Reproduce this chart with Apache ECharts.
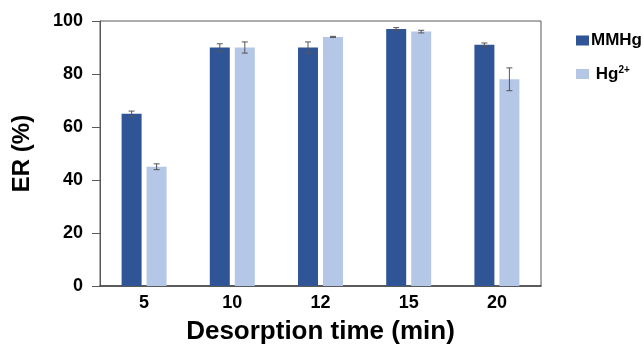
<!DOCTYPE html>
<html>
<head>
<meta charset="utf-8">
<script src="https://cdn.jsdelivr.net/npm/echarts@6/dist/echarts.min.js"></script>
<style>
html, body { margin: 0; padding: 0; background: #fff; }
#chart { width: 644px; height: 345px; }
</style>
</head>
<body>
<div id="chart"></div>
<script>
var times = ['5', '10', '12', '15', '20'];
var mmhg = [65, 90, 90, 97, 91];
var mmhgErr = [1, 1.4, 2.1, 0.5, 0.7];
var hg = [45, 90, 94, 96, 78];
var hgErr = [1.1, 2.1, 0.2, 0.5, 4.3];
var yTicks = [0, 20, 40, 60, 80, 100];

var font = 'Liberation Sans, Arial, sans-serif';

function errorSeries(values, errs, offset) {
    var data = values.map(function (v, i) { return [i, v - errs[i], v + errs[i]]; });
    return {
        type: 'custom',
        silent: true,
        z: 10,
        data: data,
        renderItem: function (params, api) {
            var lo = api.coord([api.value(0), api.value(1)]);
            var hi = api.coord([api.value(0), api.value(2)]);
            var x = lo[0] + offset;
            var w = 3;
            var style = { stroke: '#555', lineWidth: 1 };
            return {
                type: 'group',
                children: [
                    { type: 'line', shape: { x1: x, y1: lo[1], x2: x, y2: hi[1] }, style: style },
                    { type: 'line', shape: { x1: x - w, y1: lo[1], x2: x + w, y2: lo[1] }, style: style },
                    { type: 'line', shape: { x1: x - w, y1: hi[1], x2: x + w, y2: hi[1] }, style: style }
                ]
            };
        }
    };
}

var myChart = echarts.init(document.getElementById('chart'));
var option = {
    animation: false,
    textStyle: { fontFamily: font },
    grid: {
        left: 100, right: 103, top: 21, bottom: 59,
        outerBoundsMode: 'none',
        containLabel: false,
        show: true, borderColor: '#595959', borderWidth: 1
    },
    legend: {
        orient: 'vertical',
        left: 571,
        top: 27,
        itemWidth: 13,
        itemHeight: 10,
        itemGap: 16,
        icon: 'rect',
        data: ['MMHg', 'Hg2+'],
        formatter: function (name) {
            return name === 'Hg2+' ? ' Hg{sup|2+}' : name;
        },
        textStyle: {
            fontFamily: font,
            fontWeight: 'bold',
            fontSize: 17,
            color: '#000',
            padding: [0, 0, 0, -3],
            rich: {
                sup: { fontSize: 10, fontWeight: 'bold', verticalAlign: 'top', padding: [0, 0, 8, 0] }
            }
        }
    },
    xAxis: {
        type: 'category',
        data: times,
        name: 'Desorption time (min)',
        nameLocation: 'middle',
        nameGap: 33,
        nameTextStyle: { fontFamily: font, fontWeight: 'bold', fontSize: 26, color: '#000' },
        axisLine: { lineStyle: { color: '#404040', width: 1.5 } },
        axisTick: { show: false },
        axisLabel: { fontFamily: font, fontWeight: 'bold', fontSize: 18, color: '#000', margin: 8 }
    },
    yAxis: {
        type: 'value',
        min: 0,
        max: 100,
        interval: 20,
        name: 'ER (%)',
        nameLocation: 'middle',
        nameGap: 66,
        nameTextStyle: { fontFamily: font, fontWeight: 'bold', fontSize: 24, color: '#000' },
        axisLine: { show: true, lineStyle: { color: '#595959' } },
        axisTick: { show: true, length: 8, lineStyle: { color: '#595959' } },
        splitLine: { show: false },
        axisLabel: {
            fontFamily: font, fontWeight: 'bold', fontSize: 18, color: '#000', margin: 17,
            formatter: function (v) { return yTicks.indexOf(v) >= 0 ? String(v) : ''; }
        }
    },
    series: [
        {
            name: 'MMHg', type: 'bar', data: mmhg, barWidth: 20, barGap: '25%',
            itemStyle: { color: '#2F5597' }
        },
        {
            name: 'Hg2+', type: 'bar', data: hg, barWidth: 20,
            itemStyle: { color: '#B4C7E7' }
        },
        errorSeries(mmhg, mmhgErr, -12.5),
        errorSeries(hg, hgErr, 12.5)
    ]
};
myChart.setOption(option);
</script>
</body>
</html>
